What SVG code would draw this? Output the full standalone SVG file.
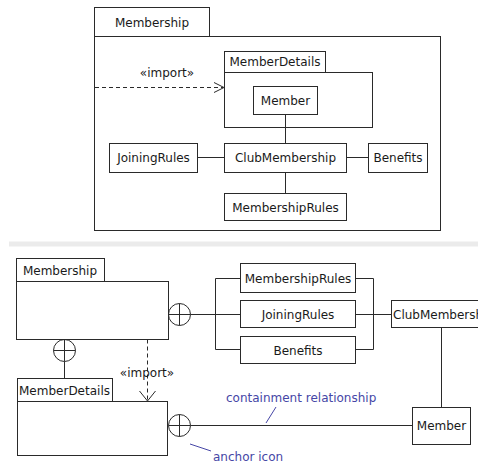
<svg xmlns="http://www.w3.org/2000/svg" width="478" height="464" viewBox="0 0 478 464">
  <style>
    .box { fill: #ffffff; stroke: #2a2a2a; stroke-width: 1; }
    .ln { fill: none; stroke: #2a2a2a; stroke-width: 1; }
    .dash { fill: none; stroke: #2a2a2a; stroke-width: 1; stroke-dasharray: 4 3; }
    .t { font-family: "DejaVu Sans", Verdana, sans-serif; font-size: 12px; fill: #1a1a1a; }
    .c { text-anchor: middle; }
    .note { font-family: "DejaVu Sans", Verdana, sans-serif; font-size: 12px; fill: #4646a6; }
    .noteln { fill: none; stroke: #4646a6; stroke-width: 1; }
  </style>
  <defs>
    <!-- containment anchor: circle with a cross -->
    <g id="anchor">
      <circle cx="0" cy="0" r="11" fill="#ffffff" stroke="#2a2a2a" stroke-width="1"/>
      <line x1="-11" y1="0" x2="11" y2="0" stroke="#2a2a2a" stroke-width="1"/>
      <line x1="0" y1="-11" x2="0" y2="11" stroke="#2a2a2a" stroke-width="1"/>
    </g>
  </defs>
  <rect width="478" height="464" fill="#ffffff"/>

  <!-- ===== Nested notation ===== -->
  <g id="top-membership">
    <rect class="box" x="94.5" y="7.5" width="115" height="29"/>
    <rect class="box" x="94.5" y="36.5" width="346" height="194"/>
    <text class="t c" x="152" y="27">Membership</text>
  </g>
  <g id="top-memberdetails">
    <rect class="box" x="224.5" y="51.5" width="101" height="21"/>
    <rect class="box" x="224.5" y="72.5" width="148" height="55"/>
    <text class="t c" x="275" y="66">MemberDetails</text>
  </g>
  <g id="top-member">
    <rect class="box" x="253.5" y="86.5" width="64" height="28"/>
    <text class="t c" x="285.5" y="105">Member</text>
  </g>
  <g id="top-clubmembership">
    <rect class="box" x="224.5" y="143.5" width="122" height="29"/>
    <text class="t c" x="285.5" y="162">ClubMembership</text>
  </g>
  <g id="top-joiningrules">
    <rect class="box" x="109.5" y="143.5" width="88" height="29"/>
    <text class="t c" x="153.5" y="162">JoiningRules</text>
  </g>
  <g id="top-benefits">
    <rect class="box" x="368.5" y="143.5" width="59" height="29"/>
    <text class="t c" x="398" y="162">Benefits</text>
  </g>
  <g id="top-membershiprules">
    <rect class="box" x="224.5" y="193.5" width="122" height="27"/>
    <text class="t c" x="285.5" y="212">MembershipRules</text>
  </g>

  <g id="top-connectors">
    <line class="dash" x1="95" y1="87.5" x2="223" y2="87.5"/>
    <polyline class="ln" points="214,82.5 224,87.5 214,92.5"/>
    <text class="t c" x="167" y="77">«import»</text>
    <line class="ln" x1="285.5" y1="114.5" x2="285.5" y2="143.5"/>
    <line class="ln" x1="197.5" y1="157.5" x2="224.5" y2="157.5"/>
    <line class="ln" x1="346.5" y1="157.5" x2="368.5" y2="157.5"/>
    <line class="ln" x1="285.5" y1="172.5" x2="285.5" y2="193.5"/>
  </g>

  <!-- separator -->
  <rect x="9" y="241.5" width="469" height="5" fill="#ebebeb"/>

  <!-- ===== Anchor notation ===== -->
  <g id="connectors">
    <!-- Membership to its contents -->
    <line class="ln" x1="190" y1="314.5" x2="240.5" y2="314.5"/>
    <polyline class="ln" points="240.5,278.5 215.5,278.5 215.5,349.5 240.5,349.5"/>
    <polyline class="ln" points="355.5,278.5 373.5,278.5 373.5,349.5 355.5,349.5"/>
    <line class="ln" x1="355.5" y1="314.5" x2="391.5" y2="314.5"/>
    <!-- Membership to MemberDetails -->
    <line class="ln" x1="64.5" y1="339.5" x2="64.5" y2="378.5"/>
    <!-- import dependency -->
    <line class="dash" x1="147.5" y1="339.5" x2="147.5" y2="400"/>
    <polyline class="ln" points="139.5,391 147.5,401 155.5,391"/>
    <text class="t c" x="147" y="377">«import»</text>
    <!-- MemberDetails to Member -->
    <line class="ln" x1="190" y1="425.5" x2="412.5" y2="425.5"/>
    <!-- ClubMembership to Member -->
    <line class="ln" x1="441.5" y1="327.5" x2="441.5" y2="407.5"/>
    <use href="#anchor" x="179.5" y="314.5"/>
    <use href="#anchor" x="64.5" y="350.5"/>
    <use href="#anchor" x="179.5" y="425.5"/>
  </g>

  <g id="membership">
    <rect class="box" x="16.5" y="258.5" width="88" height="23"/>
    <rect class="box" x="16.5" y="281.5" width="152" height="58"/>
    <text class="t c" x="60" y="275">Membership</text>
  </g>
  <g id="memberdetails">
    <rect class="box" x="17.5" y="378.5" width="95" height="23"/>
    <rect class="box" x="17.5" y="401.5" width="150" height="54"/>
    <text class="t c" x="64.5" y="395">MemberDetails</text>
  </g>
  <g id="membershiprules">
    <rect class="box" x="240.5" y="263.5" width="115" height="29"/>
    <text class="t c" x="298" y="283">MembershipRules</text>
  </g>
  <g id="joiningrules">
    <rect class="box" x="240.5" y="300.5" width="115" height="27"/>
    <text class="t c" x="298" y="319">JoiningRules</text>
  </g>
  <g id="benefits">
    <rect class="box" x="240.5" y="336.5" width="115" height="27"/>
    <text class="t c" x="298" y="355">Benefits</text>
  </g>
  <g id="clubmembership">
    <rect class="box" x="391.5" y="300.5" width="100" height="27"/>
    <text class="t" x="393" y="319">ClubMembership</text>
  </g>
  <g id="member">
    <rect class="box" x="412.5" y="407.5" width="58" height="37"/>
    <text class="t c" x="441.5" y="430">Member</text>
  </g>

  <g id="annotations">
    <text class="note" x="226" y="402">containment relationship</text>
    <line class="noteln" x1="276" y1="407" x2="266" y2="423"/>
    <line class="noteln" x1="190" y1="444" x2="211" y2="451"/>
    <text class="note" x="213" y="461">anchor icon</text>
  </g>
</svg>
